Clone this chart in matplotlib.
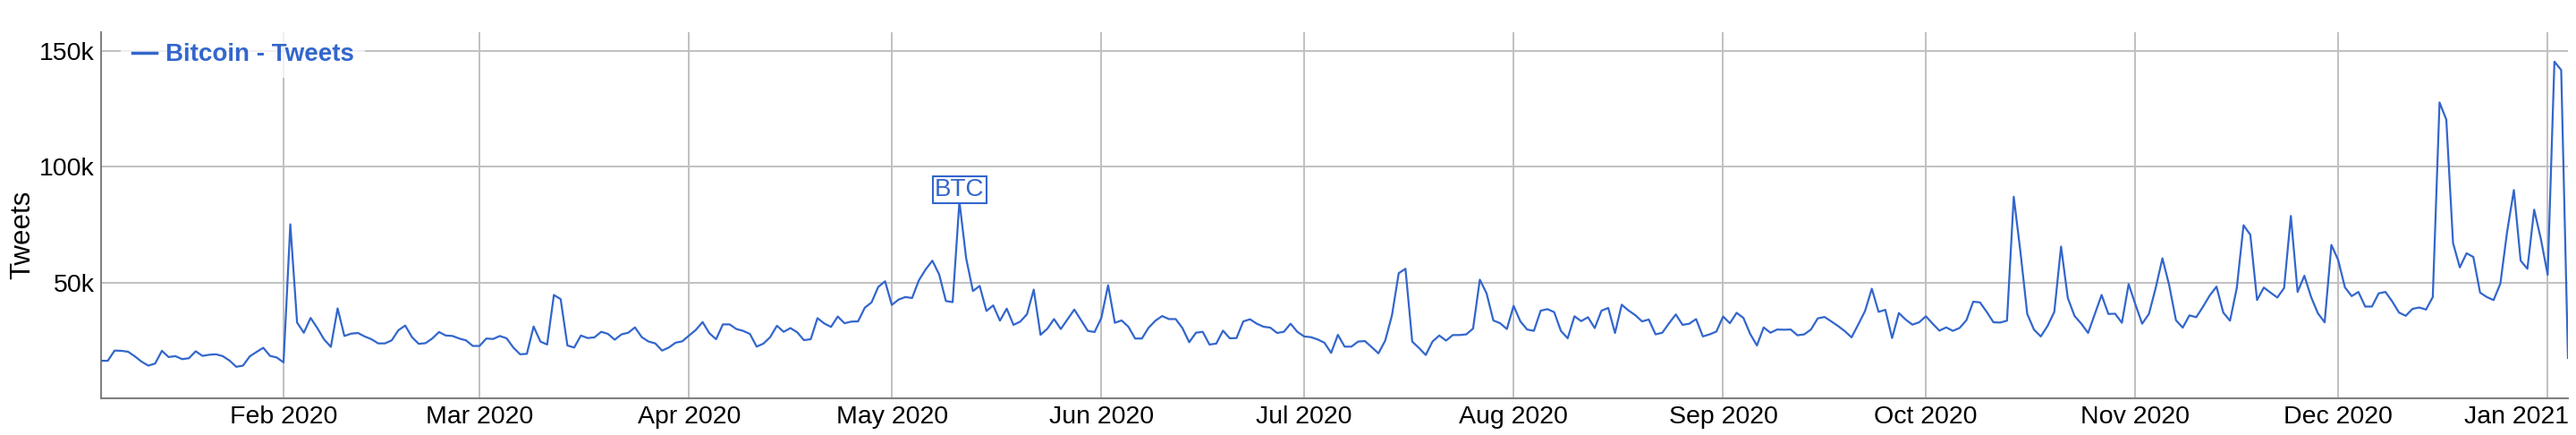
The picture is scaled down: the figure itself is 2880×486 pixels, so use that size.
import numpy as np
import pandas as pd
import matplotlib
matplotlib.use("Agg")
import matplotlib.pyplot as plt
import matplotlib.dates as mdates
from matplotlib.ticker import FixedLocator, FuncFormatter
from matplotlib.transforms import ScaledTranslation

# %% Daily tweet counts (thousands), one list per month
jan_2020 = [16.2, 16.2, 20.6, 20.5, 20.1, 18.1, 15.8, 14.1, 15.0, 20.5, 17.8, 18.2, 16.9, 17.3,
            20.3, 18.3, 18.8, 19.0, 18.2, 16.3, 13.6, 14.1, 18.1, 20.0, 21.8, 18.3, 17.6]  # from Jan 5
feb_2020 = [15.5, 75.1, 32.7, 28.3, 34.7, 30.3, 25.4, 22.2, 38.8, 26.9, 27.9, 28.2, 26.7, 25.5,
            23.7, 23.7, 25.0, 29.4, 31.4, 26.4, 23.5, 23.8, 25.8, 28.6, 27.1, 26.9, 25.8, 25.0, 22.6]
mar_2020 = [22.6, 25.8, 25.6, 26.9, 25.9, 21.9, 19.0, 19.2, 31.0, 24.5, 23.2, 44.6, 42.8, 22.8,
            21.9, 27.1, 26.0, 26.3, 28.7, 27.8, 25.3, 27.6, 28.3, 30.6, 26.4, 24.5, 23.7, 20.6,
            21.9, 24.0, 24.6]
apr_2020 = [27.1, 29.5, 32.9, 28.1, 25.5, 31.9, 31.9, 29.9, 29.1, 27.8, 22.3, 23.6, 26.4, 31.3,
            28.7, 30.3, 28.5, 25.1, 25.5, 34.6, 32.3, 30.8, 35.3, 32.4, 33.1, 33.2, 39.1, 41.4,
            48.1, 50.5]
may_2020 = [40.3, 42.6, 43.7, 43.3, 50.9, 55.6, 59.4, 53.5, 42.0, 41.5, 85.0, 60.4, 46.3, 48.5,
            37.7, 40.1, 33.5, 38.7, 31.7, 33.1, 36.3, 46.9, 27.4, 30.0, 34.2, 29.9, 34.1, 38.3,
            33.7, 29.1, 28.6]
jun_2020 = [34.7, 48.8, 32.6, 33.6, 30.9, 25.8, 25.8, 30.5, 33.5, 35.5, 34.2, 34.2, 30.3, 24.2,
            28.3, 28.7, 23.2, 23.6, 29.2, 25.9, 26.0, 33.2, 34.1, 32.2, 30.9, 30.5, 28.2, 28.7,
            32.2, 28.7]
jul_2020 = [26.7, 26.4, 25.4, 24.0, 19.6, 27.4, 22.3, 22.3, 24.5, 24.7, 22.1, 19.4, 24.9, 35.8,
            54.0, 55.9, 24.5, 21.7, 18.7, 24.5, 27.1, 24.9, 27.3, 27.3, 27.6, 30.1, 51.2, 45.3,
            33.6, 32.4, 29.9]
aug_2020 = [39.9, 33.2, 29.7, 29.1, 37.8, 38.5, 37.2, 29.1, 25.9, 35.4, 33.3, 35.0, 30.3, 37.8,
            39.0, 28.2, 40.4, 37.9, 35.9, 33.2, 34.0, 27.6, 28.3, 32.4, 36.2, 31.7, 32.2, 34.2,
            26.7, 27.6, 28.8]
sep_2020 = [35.3, 32.4, 36.9, 34.7, 27.8, 22.8, 30.6, 28.3, 29.7, 29.6, 29.7, 27.2, 27.6, 29.7,
            34.5, 35.1, 33.2, 31.2, 29.0, 26.3, 31.9, 37.7, 47.3, 37.3, 38.2, 26.0, 36.8, 34.0,
            31.8, 32.8]
oct_2020 = [35.4, 32.2, 29.2, 30.6, 29.1, 30.4, 33.7, 41.7, 41.4, 37.3, 32.8, 32.7, 33.5, 87.0,
            62.9, 36.4, 29.6, 26.7, 31.2, 37.3, 65.5, 43.3, 35.5, 32.2, 28.2, 36.4, 44.6, 36.4,
            36.5, 32.6, 49.3]
nov_2020 = [40.5, 32.2, 36.4, 47.6, 60.4, 48.8, 33.7, 30.5, 35.8, 35.0, 39.5, 44.4, 48.2, 37.0,
            33.5, 47.6, 74.7, 70.6, 42.4, 47.8, 45.6, 43.5, 47.6, 78.7, 45.9, 52.9, 43.7, 36.7,
            32.8, 66.2]
dec_2020 = [59.7, 47.9, 44.1, 45.9, 39.6, 39.6, 45.3, 45.9, 41.8, 37.0, 35.6, 38.6, 39.2, 38.3,
            43.7, 127.7, 120.3, 67.0, 56.5, 62.6, 61.0, 45.6, 43.7, 42.4, 49.5, 71.9, 89.9, 59.4,
            55.9, 81.4, 68.7]
jan_2021 = [53.3, 145.3, 141.7, 17.4]

month_starts = ["2020-01-05", "2020-02-01", "2020-03-01", "2020-04-01", "2020-05-01", "2020-06-01",
                "2020-07-01", "2020-08-01", "2020-09-01", "2020-10-01", "2020-11-01", "2020-12-01",
                "2021-01-01"]
months = [jan_2020, feb_2020, mar_2020, apr_2020, may_2020, jun_2020, jul_2020, aug_2020,
          sep_2020, oct_2020, nov_2020, dec_2020, jan_2021]

annotation_date = "2020-05-11"
annotation_text = "BTC"
series_label = "Bitcoin - Tweets"

# %% Build the series
dates = []
values = []
for start, vals in zip(month_starts, months):
    dates.extend(pd.date_range(start, periods=len(vals), freq="D"))
    values.extend(vals)
tweets = pd.Series(np.array(values) * 1000, index=pd.DatetimeIndex(dates))

# %% Plot
blue = "#3366cc"
plt.rcParams["font.family"] = ["Liberation Sans", "DejaVu Sans"]

fig = plt.figure(figsize=(28.8, 4.86), dpi=100)
ax = fig.add_axes([113 / 2880, 1 - 445 / 486, (2871 - 113) / 2880, (445 - 36) / 486])

ax.plot(tweets.index, tweets.values, color=blue, lw=1.6, label=series_label, zorder=3)

ax.set_xlim(tweets.index[0], tweets.index[-1])
ax.set_ylim(0, 158000)

ax.xaxis.set_major_locator(mdates.MonthLocator(bymonthday=1))
ax.xaxis.set_major_formatter(mdates.DateFormatter("%b %Y"))
ax.yaxis.set_major_locator(FixedLocator([50000, 100000, 150000]))
ax.yaxis.set_major_formatter(FuncFormatter(lambda v, p: f"{int(v / 1000)}k"))

ax.grid(True, color="#c0c0c0", lw=1.4)
ax.set_axisbelow(True)
ax.tick_params(axis="both", length=0, labelsize=20.5, colors="black")
ax.tick_params(axis="x", pad=6)
ax.tick_params(axis="y", pad=5)

for side in ["top", "right"]:
    ax.spines[side].set_visible(False)
for side in ["left", "bottom"]:
    ax.spines[side].set_color("#808080")
    ax.spines[side].set_linewidth(1.5)

# last month label is pushed left so it stays inside the image
fig.canvas.draw()
last = ax.get_xticklabels()[-1]
last.set_ha("right")
last.set_transform(last.get_transform() + ScaledTranslation(24 / 100, 0, fig.dpi_scale_trans))

ax.set_ylabel("Tweets", fontsize=22.5)
ax.yaxis.set_label_coords(-0.0265, 0.447)

leg = ax.legend(loc="upper left", bbox_to_anchor=(0.008, 1.0), borderaxespad=0,
                frameon=True, framealpha=0.75, edgecolor="none", facecolor="white",
                handlelength=1.0, handletextpad=0.35, borderpad=0.45,
                prop={"weight": "bold", "size": 20}, labelcolor="linecolor")
for h in leg.get_lines():
    h.set_linewidth(2.5)

ax.annotate(annotation_text, xy=(pd.Timestamp(annotation_date), tweets[annotation_date]),
            xytext=(0, 0), textcoords="offset points", ha="center", va="bottom",
            fontsize=20, color=blue, zorder=4,
            bbox=dict(boxstyle="square,pad=0.08", fc="white", ec=blue, lw=1.5))

fig.savefig("out.png", dpi=100)
